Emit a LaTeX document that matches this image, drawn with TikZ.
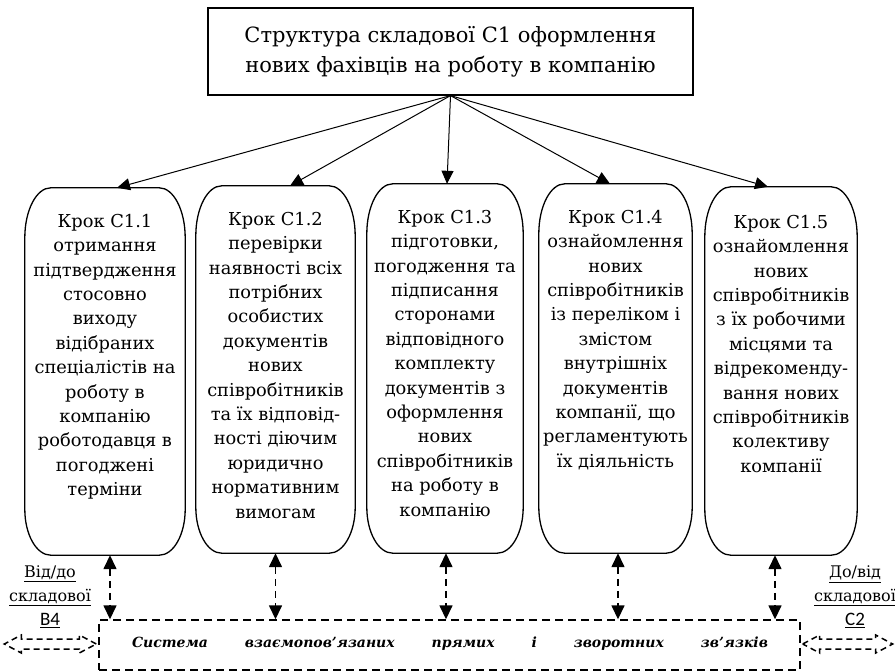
\documentclass[tikz,border=0pt]{standalone}
\usepackage{fontspec}
\setmainfont{DejaVu Serif}
\newfontfamily\labelsans{Carlito}
\usetikzlibrary{arrows.meta}

% body of a step box: fixed size, text centred and hung from the top
\newcommand\stepbody[3]{\parbox[c][#2][t]{#1}{\centering\fontsize{17.8}{24.4}\selectfont\vspace*{26pt}#3\par}}

\tikzset{
  titlebox/.style={draw, line width=1.2pt, minimum width=485pt, minimum height=87pt,
    align=center, inner sep=0pt, font=\fontsize{21}{30}\selectfont},
  stepbox/.style={inner sep=0pt},
  stepframe/.style={line width=1.3pt},
  feed/.style={line width=1pt, -{Triangle[length=13pt,width=12pt]}},
  linkarrow/.style={line width=1.5pt, dash pattern=on 7pt off 5pt,
    {Triangle[length=14pt,width=13pt]}-{Triangle[length=14pt,width=13pt]}},
  sysbox/.style={draw, line width=1.4pt, dash pattern=on 8pt off 5pt,
    minimum width=701pt, minimum height=50pt, inner sep=0pt},
  sidearrow/.style={line width=1.5pt, dash pattern=on 6pt off 4pt, line join=miter},
  sidelabel/.style={align=center, inner sep=0pt, font=\fontsize{16}{24}\selectfont}
}

\begin{document}
\begin{tikzpicture}[x=1pt, y=-1pt]
\useasboundingbox (0,0) rectangle (895,672);

% heading
\node[titlebox] (t) at (450.5,51.5)
  {Структура складової С1 оформлення\\нових фахівців на роботу в компанію};

% the five steps
\node[stepbox] (s1) at (105,371.5) {\stepbody{160pt}{367pt}{Крок С1.1\\отримання\\підтвердження\\стосовно\\виходу\\відібраних\\спеціалістів на\\роботу в\\компанію\\роботодавця в\\погоджені\\терміни}};
\node[stepbox] (s2) at (275.5,369.5) {\stepbody{159pt}{367pt}{Крок С1.2\\перевірки\\наявності всіх\\потрібних\\особистих\\документів\\нових\\співробітників\\та їх відповід-\\ності діючим\\юридично\\нормативним\\вимогам}};
\node[stepbox] (s3) at (445,368.5) {\stepbody{156pt}{369pt}{Крок С1.3\\підготовки,\\погодження та\\підписання\\сторонами\\відповідного\\комплекту\\документів з\\оформлення\\нових\\співробітників\\на роботу в\\компанію}};
\node[stepbox] (s4) at (615.5,368.5) {\stepbody{153pt}{369pt}{Крок С1.4\\ознайомлення\\нових\\співробітників\\із переліком і\\змістом\\внутрішніх\\документів\\компанії, що\\регламентують\\їх діяльність}};
\node[stepbox] (s5) at (781,371) {\stepbody{152pt}{368pt}{\vspace*{2pt}Крок С1.5\\ознайомлення\\нових\\співробітників\\з їх робочими\\місцями та\\відрекоменду-\\вання нових\\співробітників\\колективу\\компанії}};

% frames with oval corners around the steps
\foreach \s in {s1,s2,s3,s4,s5}
  \draw[stepframe] ([yshift=-50pt]\s.north west)
    arc[start angle=180, end angle=270, x radius=26, y radius=50]
    -- ([xshift=-26pt]\s.north east)
    arc[start angle=270, end angle=360, x radius=26, y radius=50]
    -- ([yshift=46pt]\s.south east)
    arc[start angle=0, end angle=90, x radius=26, y radius=46]
    -- ([xshift=26pt]\s.south west)
    arc[start angle=90, end angle=180, x radius=26, y radius=46]
    -- cycle;

% heading to steps
\draw[feed] (t.south) -- ([xshift=12pt]s1.north);
\draw[feed] (t.south) -- ([xshift=14.5pt]s2.north);
\draw[feed] (t.south) -- ([xshift=2pt]s3.north);
\draw[feed] (t.south) -- ([xshift=-5.5pt]s4.north);
\draw[feed] (t.south) -- ([xshift=-13pt]s5.north);

% system of links
\node[sysbox] (sys) at (449.5,645) {};
\node (systext) at (450,644) {\parbox{636pt}{\fontsize{14}{18}\selectfont\bfseries\itshape
  Система\hfill взаємопов’язаних\hfill прямих\hfill і\hfill зворотних\hfill зв’язків}};

% steps to the system of links
\coordinate (d1) at ([xshift=5pt]s1.south);
\coordinate (d2) at ([xshift=0pt]s2.south);
\coordinate (d3) at ([xshift=1pt]s3.south);
\coordinate (d4) at ([xshift=2.5pt]s4.south);
\coordinate (d5) at ([xshift=-6pt]s5.south);
\foreach \d in {d1,d2,d3,d4,d5}
  \draw[linkarrow] (\d) -- (\d |- sys.north);

% outward links to neighbouring components
\coordinate (la) at ([xshift=-2pt,yshift=1pt]sys.west);
\draw[sidearrow] (la) -- ++(-17,-9) -- ++(0,4) -- ++(-58,0) -- ++(0,-4) -- ++(-17,9)
  -- ++(17,9) -- ++(0,-4) -- ++(58,0) -- ++(0,4) -- cycle;
\coordinate (ra) at ([xshift=2pt,yshift=1pt]sys.east);
\draw[sidearrow] (ra) -- ++(17,-9) -- ++(0,4) -- ++(56,0) -- ++(0,-4) -- ++(17,9)
  -- ++(-17,9) -- ++(0,-4) -- ++(-56,0) -- ++(0,4) -- cycle;

\node[sidelabel] (lb) at (50,597) {\underline{Від/до}\\\underline{складової}\\{\labelsans\fontsize{19}{24}\selectfont\underline{В4}}};
\node[sidelabel] (rb) at (855,597) {\underline{До/від}\\\underline{складової}\\{\labelsans\fontsize{19}{24}\selectfont\underline{С2}}};
\end{tikzpicture}
\end{document}
